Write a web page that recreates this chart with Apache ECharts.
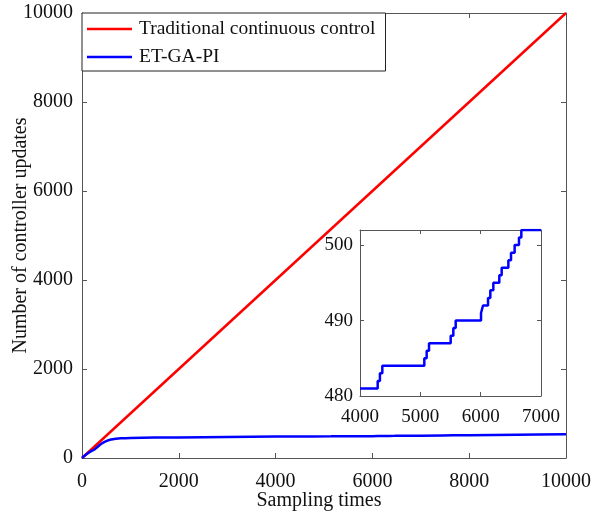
<!DOCTYPE html>
<html>
<head>
<meta charset="utf-8">
<script src="https://cdn.jsdelivr.net/npm/echarts@6/dist/echarts.min.js"></script>
<style>html,body{margin:0;padding:0;background:#fff}#c{width:598px;height:511px}</style>
</head>
<body>
<div id="c"></div>
<script>
// Controller update counts versus sampling time
const xTicks = [0, 2000, 4000, 6000, 8000, 10000];
const yTicks = [0, 2000, 4000, 6000, 8000, 10000];

// Traditional continuous control updates every sample
const continuousData = [[0, 0], [10000, 10000]];

// Event-triggered GA-PI cumulative updates (overall run)
const etOverall = [
  [0, 0], [100, 90], [200, 160], [250, 185], [300, 230], [400, 320], [500, 380],
  [600, 415], [700, 432], [800, 442], [1000, 450], [1500, 458], [2000, 463],
  [3000, 472], [4000, 481], [4370, 484], [5144, 487], [5586, 490], [6000, 491],
  [6210, 495], [6459, 498], [6674, 502], [7000, 502], [8000, 514], [9000, 525],
  [10000, 535]
];

// Detail window 4000-7000: each step is one controller update
const etDetail = [
  [4000, 481], [4293, 482], [4330, 483], [4370, 484], [5066, 485], [5105, 486],
  [5144, 487], [5503, 488], [5547, 489], [5586, 490], [6006, 491], [6039, 492],
  [6122, 493], [6160, 494], [6210, 495], [6309, 496], [6348, 497], [6459, 498],
  [6503, 499], [6563, 500], [6635, 501], [6674, 502], [7000, 502]
];
const detailXTicks = [4000, 5000, 6000, 7000];
const detailYTicks = [480, 490, 500];

const FONT = 'Liberation Serif';
const AX = '#555';
const TXT = '#111';
const chart = echarts.init(document.getElementById('c'));

function tickAxis(extra) {
  return Object.assign({
    type: 'value',
    nameMoveOverlap: false,
    axisLine: { show: true, onZero: false, lineStyle: { color: AX, width: 1 } },
    axisTick: { show: true, inside: true, length: 5, lineStyle: { color: AX } },
    splitLine: { show: false }
  }, extra);
}

chart.setOption({
  animation: false,
  backgroundColor: '#fff',
  grid: [
    { left: 82, right: 32, top: 13, bottom: 53, containLabel: false, outerBoundsMode: 'none' },
    { left: 360, top: 230, width: 181, height: 166, containLabel: false, outerBoundsMode: 'none' }
  ],
  legend: {
    left: 82, top: 13,
    orient: 'vertical',
    data: ['Traditional continuous control', 'ET-GA-PI'],
    icon: 'rect',
    itemWidth: 45, itemHeight: 2.5, itemGap: 8,
    padding: [6, 10, 4, 5],
    borderColor: '#222', borderWidth: 1, borderRadius: 0,
    backgroundColor: '#fff',
    textStyle: { fontFamily: FONT, fontSize: 19.5, color: TXT, lineHeight: 20, padding: [0, 0, 0, 2] }
  },
  xAxis: [
    tickAxis({
      gridIndex: 0, position: 'bottom', min: 0, max: 10000, interval: 2000,
      name: 'Sampling times', nameLocation: 'middle', nameGap: 33,
      nameTextStyle: { fontFamily: FONT, fontSize: 20, color: TXT, padding: [0, 10, 0, 0] },
      axisLabel: { color: TXT, fontFamily: FONT, fontSize: 20, margin: 14,
        formatter: v => xTicks.includes(v) ? String(v) : '' }
    }),
    tickAxis({ gridIndex: 0, position: 'top', min: 0, max: 10000, interval: 2000,
      axisLabel: { show: false } }),
    tickAxis({
      gridIndex: 1, position: 'bottom', min: 4000, max: 7000, interval: 1000,
      axisTick: { show: true, inside: true, length: 4, lineStyle: { color: AX } },
      axisLabel: { color: TXT, fontFamily: FONT, fontSize: 19, margin: 12,
        formatter: v => detailXTicks.includes(v) ? String(v) : '' }
    }),
    tickAxis({
      gridIndex: 1, position: 'top', min: 4000, max: 7000, interval: 1000,
      axisTick: { show: true, inside: true, length: 4, lineStyle: { color: AX } },
      axisLabel: { show: false }
    })
  ],
  yAxis: [
    tickAxis({
      gridIndex: 0, position: 'left', min: 0, max: 10000, interval: 2000,
      name: 'Number of controller updates', nameLocation: 'middle', nameGap: 51,
      nameTextStyle: { fontFamily: FONT, fontSize: 20, color: TXT },
      axisLabel: { color: TXT, fontFamily: FONT, fontSize: 20, margin: 9,
        formatter: v => yTicks.includes(v) ? String(v) : '' }
    }),
    tickAxis({ gridIndex: 0, position: 'right', min: 0, max: 10000, interval: 2000,
      axisLabel: { show: false } }),
    tickAxis({
      gridIndex: 1, position: 'left', min: 480, max: 502, interval: 10,
      axisTick: { show: true, inside: true, length: 4, lineStyle: { color: AX } },
      axisLabel: { color: TXT, fontFamily: FONT, fontSize: 19, margin: 7,
        formatter: v => detailYTicks.includes(v) ? String(v) : '' }
    }),
    tickAxis({
      gridIndex: 1, position: 'right', min: 480, max: 502, interval: 10,
      axisTick: { show: true, inside: true, length: 4, lineStyle: { color: AX } },
      axisLabel: { show: false }
    })
  ],
  series: [
    {
      name: 'Traditional continuous control', type: 'line',
      xAxisIndex: 0, yAxisIndex: 0, data: continuousData,
      symbol: 'none', lineStyle: { color: '#ff0000', width: 2.5 },
      itemStyle: { color: '#ff0000' }, z: 3
    },
    {
      name: 'ET-GA-PI', type: 'line',
      xAxisIndex: 0, yAxisIndex: 0, data: etOverall, smooth: 0.3,
      symbol: 'none', lineStyle: { color: '#0000ff', width: 2.5 },
      itemStyle: { color: '#0000ff' }, z: 3
    },
    {
      name: 'ET-GA-PI detail', type: 'line',
      xAxisIndex: 2, yAxisIndex: 2, data: etDetail, step: 'end',
      symbol: 'none', lineStyle: { color: '#0000ff', width: 2.5 },
      itemStyle: { color: '#0000ff' }, z: 5
    }
  ]
});
</script>
</body>
</html>
